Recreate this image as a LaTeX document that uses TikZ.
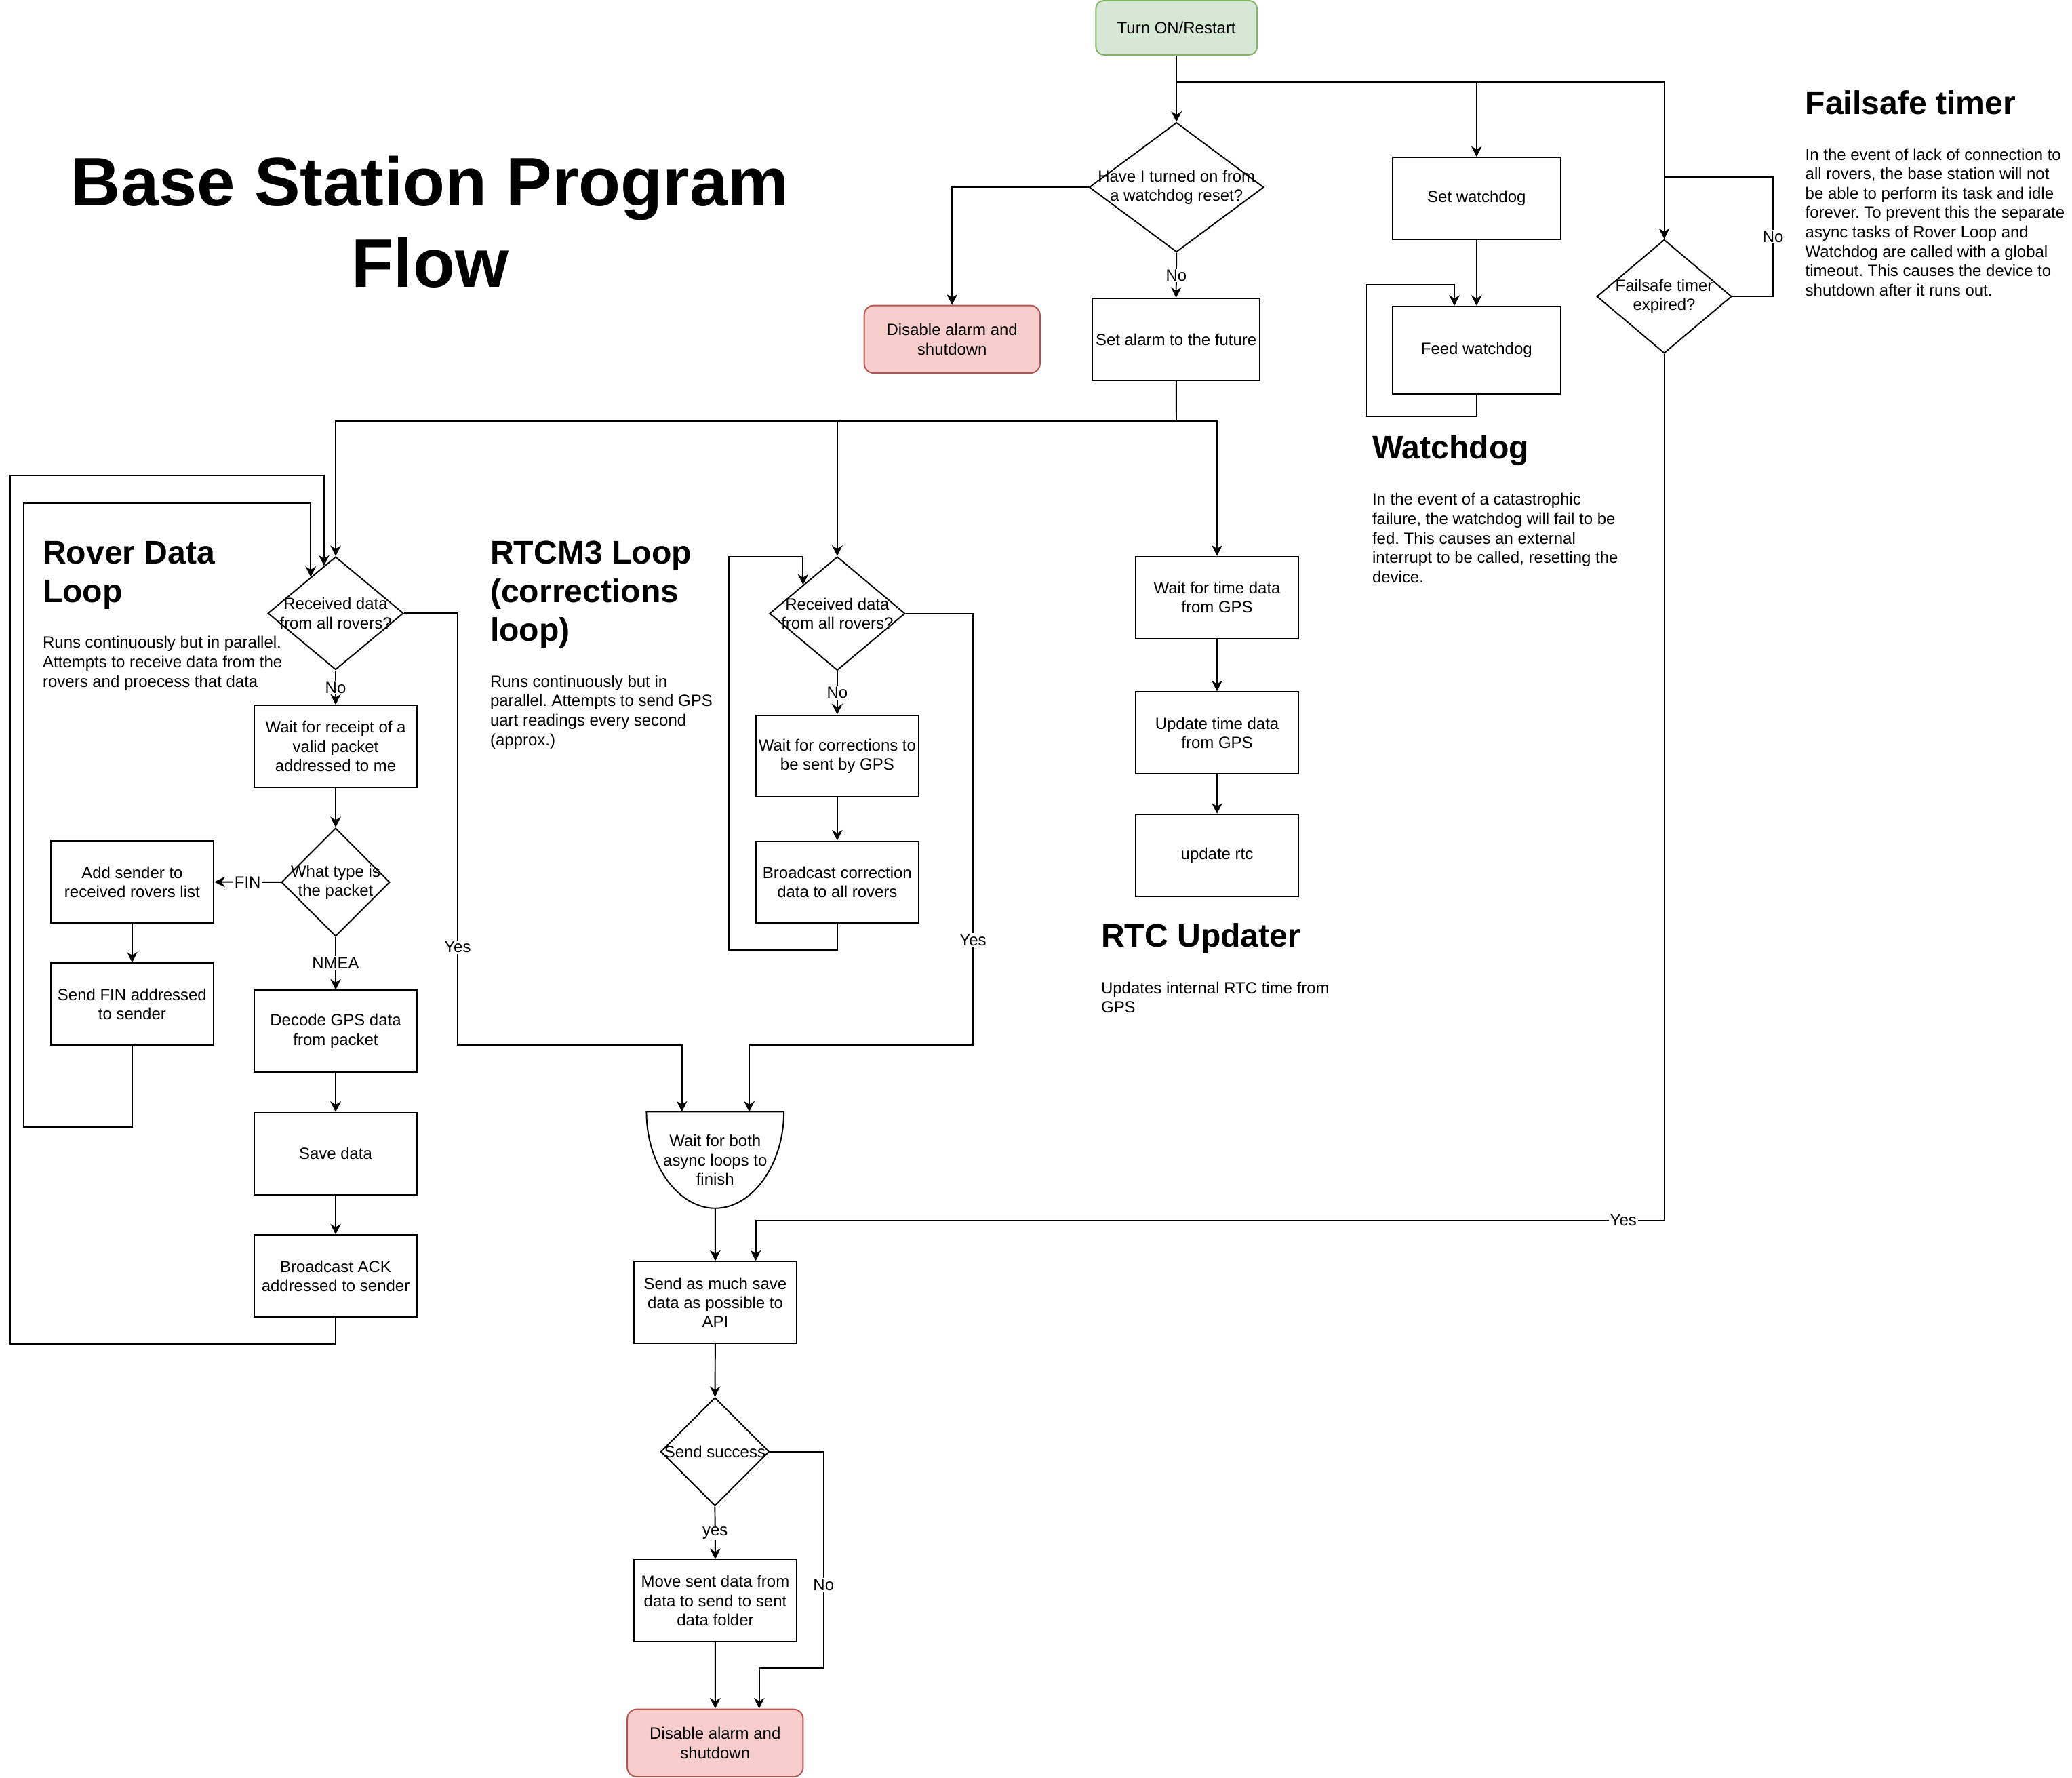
\documentclass[tikz,border=0pt]{standalone}
\usepackage{fontspec}
\setmainfont{Liberation Sans}
\usetikzlibrary{arrows.meta}
\usetikzlibrary{shapes.geometric}
\usetikzlibrary{calc}
\definecolor{startfill}{HTML}{D5E8D4}
\definecolor{startline}{HTML}{82B366}
\definecolor{stopfill}{HTML}{F8CECC}
\definecolor{stopline}{HTML}{B85450}
\frenchspacing

\begin{document}
\begin{tikzpicture}[x=1pt,y=-1pt,line width=1pt,
  every node/.style={font=\fontsize{12.3}{14.5}\selectfont,align=center},
  proc/.style={draw,rectangle,minimum width=123.5pt,minimum height=62pt,inner sep=1pt},
  wide/.style={proc,minimum width=127pt},
  stopbox/.style={draw=stopline,fill=stopfill,rounded corners=7pt,minimum width=133pt,minimum height=51pt,inner sep=1pt},
  dec/.style 2 args={draw,diamond,inner sep=0pt,minimum width=#1pt,minimum height=#2pt},
  dtext/.style={inner sep=0pt},
  arr/.style={-{Stealth[length=8pt,width=8pt,inset=2.5pt]}},
  lbl/.style={fill=white,inner sep=1pt},
  head/.style={font=\fontsize{24.7}{29.3}\selectfont\bfseries,anchor=base west,inner sep=0pt,align=left},
  body/.style={font=\fontsize{12.3}{14.7}\selectfont,anchor=base west,inner sep=0pt,align=left}]
  \fill[white] (0,0) rectangle (1568,1345.3);
  \useasboundingbox (0,0) rectangle (1568,1345.3);

  \node[font=\fontsize{52}{61.5}\selectfont\bfseries,anchor=base,inner sep=0pt] (title) at (325.5,217.3) {Base Station Program\\Flow};

  \node[draw=startline,fill=startfill,rounded corners=6pt,minimum width=122pt,minimum height=41pt,inner sep=1pt] (start) at (890.3,21) {Turn ON/Restart};
  \node[dec={132}{98},label={[dtext]center:Have I turned on from\\a watchdog reset?}] (wdq) at (890.3,141.7) {};
  \node[stopbox] (halt1) at (720.5,256.7) {Disable alarm and\\shutdown};
  \node[wide] (alarm) at (890,256.8) {Set alarm to the future};
  \node[wide] (wdset) at (1117.4,150.1) {Set watchdog};
  \node[wide,minimum height=66.3pt] (wdfeed) at (1117.4,265) {Feed watchdog};
  \node[dec={102}{86},label={[dtext]center:Failsafe timer\\expired?}] (fsdec) at (1259.4,224.3) {};

  \node[dec={102.5}{85.5},label={[dtext]center:Received data\\from all rovers?}] (rvdec) at (254,464) {};
  \node[proc] (rvwait) at (254,564.7) {Wait for receipt of a\\valid packet\\addressed to me};
  \node[dec={82}{82},label={[dtext]center:What type is\\the packet}] (rvtype) at (254,667.5) {};
  \node[proc] (rvadd) at (100,667.3) {Add sender to\\received rovers list};
  \node[proc] (rvfin) at (100,759.8) {Send FIN addressed\\to sender};
  \node[proc] (rvgps) at (254,780.3) {Decode GPS data\\from packet};
  \node[proc] (rvsave) at (254,872.9) {Save data};
  \node[proc] (rvack) at (254,965.5) {Broadcast ACK\\addressed to sender};

  \node[dec={102.5}{86},label={[dtext]center:Received data\\from all rovers?}] (rtdec) at (633.6,464.2) {};
  \node[proc] (rtwait) at (633.6,572.1) {Wait for corrections to\\be sent by GPS};
  \node[proc] (rtsend) at (633.6,667.5) {Broadcast correction\\data to all rovers};

  \node[proc] (rtcwait) at (921,452.1) {Wait for time data\\from GPS};
  \node[proc] (rtcupd) at (921,554.5) {Update time data\\from GPS};
  \node[proc] (rtcset) at (921,647.1) {update rtc};

  \node[minimum width=103pt,minimum height=72pt,inner sep=0pt] (both) at (541.2,877.7) {Wait for both\\async loops to\\finish};
  \draw (both.north west) -- (both.north east) .. controls +(0,40) and +(28,0) .. (both.south) .. controls +(-28,0) and +(0,40) .. (both.north west) -- cycle;
  \node[proc] (api) at (541.3,985.5) {Send as much save\\data as possible to\\API};
  \node[dec={82}{82},label={[dtext]center:Send success}] (okdec) at (541,1098.4) {};
  \node[proc] (move) at (541.3,1211.2) {Move sent data from\\data to send to sent\\data folder};
  \node[stopbox] (halt2) at (541.2,1318.8) {Disable alarm and\\shutdown};

  \node[head] (fshead) at (1365.7,86.4) {Failsafe timer};
  \node[body] (fstext) at (1365.7,224) {In the event of lack of connection to\\all rovers, the base station will not\\be able to perform its task and idle\\forever. To prevent this the separate\\async tasks of Rover Loop and\\Watchdog are called with a global\\timeout. This causes the device to\\shutdown after it runs out.};
  \node[head] (wdhead) at (1038,347) {Watchdog};
  \node[body] (wdtext) at (1038,441) {In the event of a catastrophic\\failure, the watchdog will fail to be\\fed. This causes an external\\interrupt to be called, resetting the\\device.};
  \node[head] (rvhead) at (31.9,455.7) {Rover Data\\Loop};
  \node[body] (rvtext) at (31.9,519.9) {Runs continuously but in parallel.\\Attempts to receive data from the\\rovers and proecess that data};
  \node[head] (rthead) at (370.5,485) {RTCM3 Loop\\(corrections\\loop)};
  \node[body] (rttext) at (370.5,563.9) {Runs continuously but in\\parallel. Attempts to send GPS\\uart readings every second\\(approx.)};
  \node[head] (rtchead) at (832.8,716.3) {RTC Updater};
  \node[body] (rtctext) at (832.8,766.4) {Updates internal RTC time from\\GPS};

  \coordinate (top) at (890.3,61.9);
  \coordinate (mid) at (890.2,318.4);
  \coordinate (fsback) at (1259.4,133.9);
  \coordinate (rvin1) at ($(rvdec.north)!0.17!(rvdec.west)$);
  \coordinate (rvin2) at ($(rvdec.north)!0.365!(rvdec.west)$);
  \coordinate (bothin1) at ([xshift=-25.2pt]both.north);
  \coordinate (bothin2) at ([xshift=25.8pt]both.north);
  \coordinate (fsin) at ([xshift=30.6pt]api.north);
  \coordinate (haltin) at ([xshift=33.3pt]halt2.north);

  \draw[arr] (start) -- (wdq);
  \draw[arr] (top) -| (wdset.north);
  \draw[arr] (top) -| (fsdec.north);
  \draw[arr] (wdq.west) -| (halt1.north);
  \draw[arr] (wdq.south) -- node[lbl]{No} (alarm.north);
  \draw[arr] (wdset) -- (wdfeed);
  \draw[arr] (wdfeed.south) -- ++(0,16.3) -| (1033.9,215.7) -| ([xshift=-16.8pt]wdfeed.north);
  \draw (fsdec.east) -| node[lbl,pos=0.75]{No} (1341.8,133.9) -- (fsback);
  \draw[arr] (fsdec.south) |- node[lbl,pos=0.5225]{Yes} ([yshift=30.7pt]fsin) -- (fsin);

  \draw (alarm) -- (mid);
  \draw[arr] (mid) -| (rvdec.north);
  \draw[arr] (mid) -| (rtdec.north);
  \draw[arr] (mid) -| (rtcwait.north);

  \draw[arr] (rvdec.south) -- node[lbl]{No} (rvwait.north);
  \draw[arr] (rvwait) -- (rvtype);
  \draw[arr] (rvtype.west) -- node[lbl]{FIN} (rvadd.east);
  \draw[arr] (rvadd) -- (rvfin);
  \draw[arr] (rvtype.south) -- node[lbl]{NMEA} (rvgps.north);
  \draw[arr] (rvgps) -- (rvsave);
  \draw[arr] (rvsave) -- (rvack);
  \draw[arr] (rvack.south) -- ++(0,20) -| (7.9,359.6) -| (rvin1);
  \draw[arr] (rvfin.south) -- ++(0,61.4) -| (18,380.6) -| (rvin2);
  \draw[arr] (rvdec.east) -| node[lbl,pos=0.887]{Yes} (346.3,790.5) -| (bothin1);

  \draw[arr] (rtdec.south) -- node[lbl]{No} (rtwait.north);
  \draw[arr] (rtwait) -- (rtsend);
  \draw[arr] (rtsend.south) -- ++(0,20) -| (551.4,421.1) -| (rtdec.north west);
  \draw[arr] (rtdec.east) -| node[lbl,pos=0.879]{Yes} (736.3,790.5) -| (bothin2);

  \draw[arr] (rtcwait) -- (rtcupd);
  \draw[arr] (rtcupd) -- (rtcset);

  \draw[arr] (both.south) -- (api.north);
  \draw[arr] (api) -- (okdec);
  \draw[arr] (okdec.south) -- node[lbl]{yes} (move.north);
  \draw[arr] (move) -- (halt2);
  \draw[arr] (okdec.east) -| node[lbl,pos=0.808]{No} (623.3,1262.4) -| (haltin);
\end{tikzpicture}
\end{document}
